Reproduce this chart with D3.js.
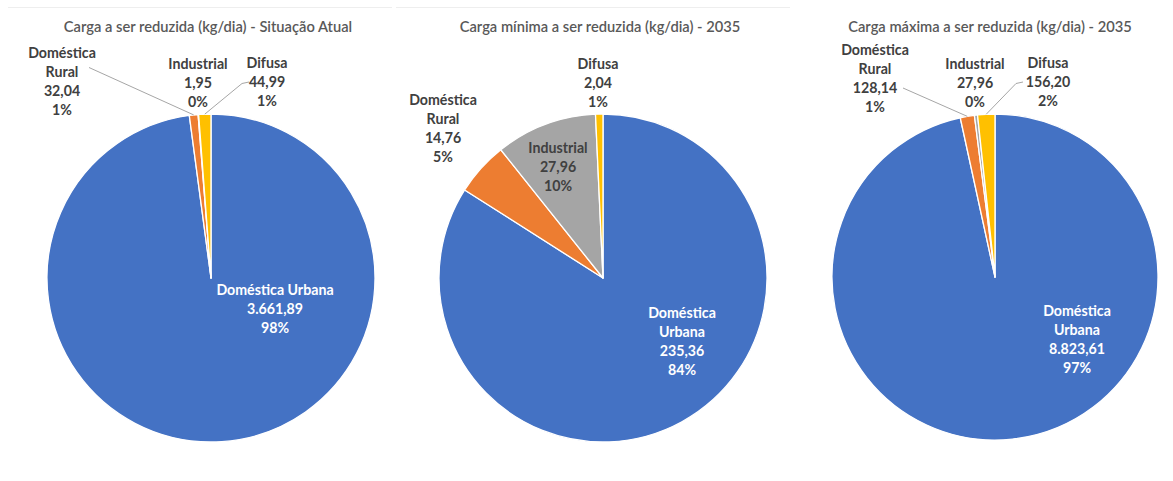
<!DOCTYPE html>
<html>
<head>
<meta charset="utf-8">
<script src="https://cdn.jsdelivr.net/npm/d3@7/dist/d3.min.js"></script>
<style>
  html, body { margin: 0; padding: 0; background: #fff; }
  svg { display: block; font-family: Lato, "Open Sans", sans-serif; }
</style>
</head>
<body>
<svg id="chart" width="1173" height="481"></svg>
<script>
// Categories and loads (kg/dia) for the three scenarios
const categories = ["Doméstica Urbana", "Doméstica Rural", "Industrial", "Difusa"];
const titles = [
  "Carga a ser reduzida (kg/dia) - Situação Atual",
  "Carga mínima a ser reduzida (kg/dia) - 2035",
  "Carga máxima a ser reduzida (kg/dia) - 2035"
];
const valuesAtual = [3661.89, 32.04, 1.95, 44.99];
const valuesMinima = [235.36, 14.76, 27.96, 2.04];
const valuesMaxima = [8823.61, 128.14, 27.96, 156.20];
const colors = ["#4472C4", "#ED7D31", "#A5A5A5", "#FFC000"];

// Layout: pie centres, radii, title placement and label placement
const layout = [
  {
    values: valuesAtual, cx: 211, cy: 278, r: 164, titleX: 208, titleY: 26,
    labels: [
      { x: 275, y: 289, lines: 1, fill: "#fff" },
      { x: 62, y: 52, lines: 2, fill: "#404040", leader: [89, 67.5] },
      { x: 198, y: 63, lines: 1, fill: "#404040" },
      { x: 267, y: 62, lines: 1, fill: "#404040", leader: [249, 82], elbow: 242 }
    ]
  },
  {
    values: valuesMinima, cx: 603, cy: 278, r: 164, titleX: 600, titleY: 26,
    labels: [
      { x: 682, y: 312, lines: 2, fill: "#fff" },
      { x: 443, y: 99, lines: 2, fill: "#404040" },
      { x: 558, y: 147, lines: 1, fill: "#404040" },
      { x: 598, y: 63, lines: 1, fill: "#404040" }
    ]
  },
  {
    values: valuesMaxima, cx: 995, cy: 277, r: 163, titleX: 990, titleY: 26,
    labels: [
      { x: 1077, y: 310, lines: 2, fill: "#fff" },
      { x: 875, y: 49, lines: 2, fill: "#404040", leader: [903, 88] },
      { x: 975, y: 63, lines: 1, fill: "#404040" },
      { x: 1048, y: 62, lines: 1, fill: "#404040", leader: [1023, 82], elbow: 1016 }
    ]
  }
];

const locale = d3.formatLocale({ decimal: ",", thousands: ".", grouping: [3], currency: ["R$", ""] });
const fmtValue = locale.format(",.2f");
const lineStep = 19.3;

const svg = d3.select("#chart");

// faint chart-area borders along the top
svg.append("line").attr("x1", 8).attr("x2", 392).attr("y1", 7.5).attr("y2", 7.5)
  .attr("stroke", "#eeeeee").attr("stroke-width", 1);
svg.append("line").attr("x1", 396).attr("x2", 790).attr("y1", 7.5).attr("y2", 7.5)
  .attr("stroke", "#eeeeee").attr("stroke-width", 1);

const pie = d3.pie().sort(null).value(d => d);

layout.forEach((cfg, ci) => {
  const total = d3.sum(cfg.values);
  const arcs = pie(cfg.values);
  const arc = d3.arc().innerRadius(0).outerRadius(cfg.r);

  // title
  svg.append("text")
    .attr("x", cfg.titleX).attr("y", cfg.titleY)
    .attr("text-anchor", "middle").attr("dominant-baseline", "central")
    .attr("font-size", 14.7).attr("font-weight", 600).attr("fill", "#595959")
    .text(titles[ci]);

  const g = svg.append("g").attr("transform", `translate(${cfg.cx},${cfg.cy})`);

  // slices
  g.selectAll("path.slice").data(arcs).join("path")
    .attr("class", "slice")
    .attr("d", arc)
    .attr("fill", (d, i) => colors[i])
    .attr("stroke", "#fff").attr("stroke-width", 1.3).attr("stroke-linejoin", "round");

  // leader lines to small slices
  arcs.forEach((d, i) => {
    const lab = cfg.labels[i];
    if (!lab.leader) return;
    const mid = (d.startAngle + d.endAngle) / 2;
    const ex = cfg.cx + Math.sin(mid) * cfg.r;
    const ey = cfg.cy - Math.cos(mid) * cfg.r;
    const pts = [[lab.leader[0], lab.leader[1]]];
    if (lab.elbow !== undefined) pts.push([lab.elbow, lab.leader[1] + 1.5]);
    pts.push([ex, ey]);
    svg.append("path")
      .attr("d", d3.line()(pts))
      .attr("fill", "none").attr("stroke", "#A6A6A6").attr("stroke-width", 1);
  });

  // data labels: category, value, percentage
  arcs.forEach((d, i) => {
    const lab = cfg.labels[i];
    const name = categories[i];
    const nameLines = lab.lines === 2 ? name.split(" ") : [name];
    const rows = nameLines.concat([fmtValue(d.data), Math.round(d.data / total * 100) + "%"]);
    const t = svg.append("text")
      .attr("text-anchor", "middle")
      .attr("font-size", 14.2).attr("font-weight", 700).attr("fill", lab.fill);
    rows.forEach((row, k) => {
      t.append("tspan")
        .attr("x", lab.x).attr("y", lab.y + k * lineStep)
        .attr("dominant-baseline", "central")
        .text(row);
    });
  });
});
</script>
</body>
</html>
